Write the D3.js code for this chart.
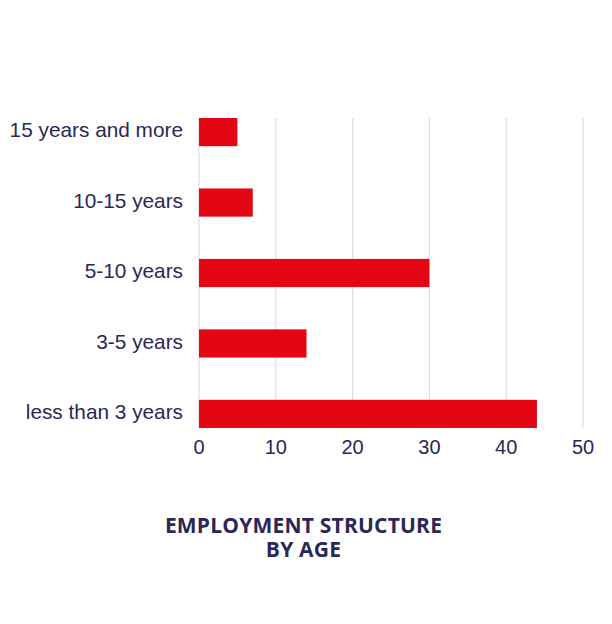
<!DOCTYPE html>
<html>
<head>
<meta charset="utf-8">
<script src="https://cdn.jsdelivr.net/npm/d3@7"></script>
<style>
  body { margin: 0; background: #fff; }
  svg { display: block; }
</style>
</head>
<body>
<svg id="chart" width="612" height="624"></svg>
<script>
const categories = ["15 years and more", "10-15 years", "5-10 years", "3-5 years", "less than 3 years"];
const values = [5, 7, 30, 14, 44];
const xTicks = [0, 10, 20, 30, 40, 50];
const titleLines = ["EMPLOYMENT STRUCTURE", "BY AGE"];

const svg = d3.select("#chart");
const textColor = "#2b2757";
const barColor = "#e30613";
const gridColor = "#dedde6";

const x = d3.scaleLinear().domain([0, 50]).range([199, 583]);
const y = d3.scaleBand().domain(categories).range([118, 428]).paddingInner(0.6).paddingOuter(0);

// gridlines
svg.append("g").selectAll("line").data(xTicks).join("line")
  .attr("x1", d => x(d)).attr("x2", d => x(d))
  .attr("y1", 118).attr("y2", 428)
  .attr("stroke", gridColor).attr("stroke-width", 1.2);

// bars
svg.append("g").selectAll("rect").data(categories).join("rect")
  .attr("x", x(0))
  .attr("y", d => y(d))
  .attr("width", (d, i) => x(values[i]) - x(0))
  .attr("height", y.bandwidth())
  .attr("fill", barColor);

// category labels
svg.append("g").selectAll("text").data(categories).join("text")
  .attr("x", 183)
  .attr("y", d => y(d) + y.bandwidth() / 2)
  .attr("dy", "0.26em")
  .attr("text-anchor", "end")
  .attr("font-family", "'Liberation Sans', Arial, sans-serif")
  .attr("font-size", 20.8)
  .attr("fill", textColor)
  .text(d => d);

// x tick labels
svg.append("g").selectAll("text").data(xTicks).join("text")
  .attr("x", d => x(d))
  .attr("y", 454)
  .attr("text-anchor", "middle")
  .attr("font-family", "'Liberation Sans', Arial, sans-serif")
  .attr("font-size", 20)
  .attr("fill", textColor)
  .text(d => d);

// title
svg.append("g").selectAll("text").data(titleLines).join("text")
  .attr("x", 303.5)
  .attr("y", (d, i) => 532.5 + i * 24)
  .attr("text-anchor", "middle")
  .attr("font-family", "'Open Sans', sans-serif")
  .attr("font-weight", 700)
  .attr("font-size", 21)
  .attr("letter-spacing", 0.2)
  .attr("fill", textColor)
  .text(d => d);
</script>
</body>
</html>
